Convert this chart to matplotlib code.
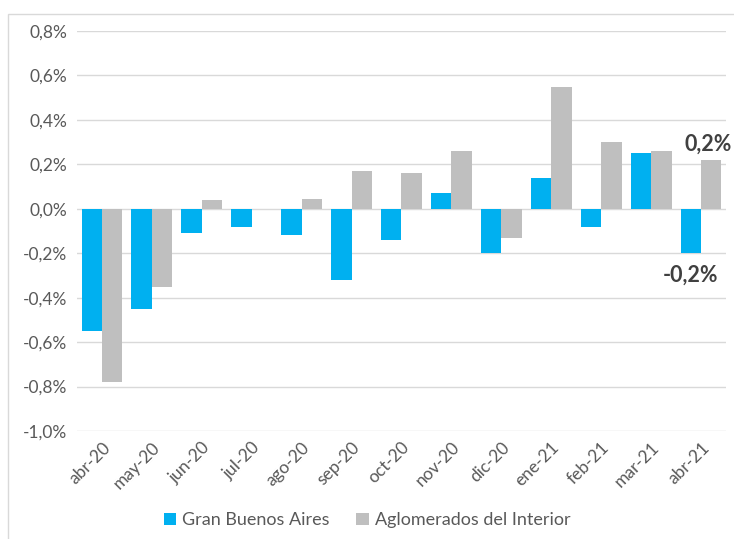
import matplotlib.pyplot as plt
import numpy as np
from matplotlib.patches import Rectangle

BLUE = "#00B0F0"
GRAY = "#BFBFBF"
TEXT_COLOR = "#595959"

months = ["abr-20", "may-20", "jun-20", "jul-20", "ago-20", "sep-20", "oct-20",
          "nov-20", "dic-20", "ene-21", "feb-21", "mar-21", "abr-21"]
gba = [-0.55, -0.45, -0.11, -0.08, -0.12, -0.32, -0.14, 0.07, -0.20, 0.14, -0.08, 0.25, -0.20]
interior = [-0.78, -0.35, 0.04, -0.003, 0.045, 0.17, 0.16, 0.26, -0.13, 0.55, 0.30, 0.26, 0.22]
yticks = [-1.0, -0.8, -0.6, -0.4, -0.2, 0.0, 0.2, 0.4, 0.6, 0.8]

plt.rcParams["font.family"] = ["Lato", "DejaVu Sans"]

fig = plt.figure(figsize=(7.34, 5.39), dpi=100)
ax = fig.add_axes([0.105, 0.2004, 0.884, 0.742])

# Outer chart border.
fig.patches.append(Rectangle((8 / 734, -0.01), 1.0, 1 - 14 / 539 + 0.01, transform=fig.transFigure,
                             fill=False, edgecolor="#D9D9D9", linewidth=1.0))

x = np.arange(len(months))
w = 0.41
ax.bar(x - w / 2, gba, width=w, color=BLUE, label="Gran Buenos Aires", zorder=3)
ax.bar(x + w / 2, interior, width=w, color=GRAY, label="Aglomerados del Interior", zorder=3)

# Grid and axes.
ax.set_ylim(-1.0, 0.8)
ax.set_xlim(-0.5, len(months) - 0.5)
ax.set_yticks(yticks)
ax.set_yticklabels([f"{v:.1f}%".replace(".", ",") for v in yticks], fontsize=12.5, color=TEXT_COLOR)
ax.yaxis.grid(True, color="#D9D9D9", linewidth=1.0, zorder=0)
ax.set_xticks(x)
ax.set_xticklabels(months, rotation=45, ha="right", rotation_mode="anchor", fontsize=12.5, color=TEXT_COLOR)
ax.tick_params(length=0, pad=7)
ax.tick_params(axis="x", pad=6)
for s in ax.spines.values():
    s.set_visible(False)

# Annotations for the last month.
ax.text(12.15, 0.245, "0,2%", ha="center", va="bottom", fontsize=15.5, fontweight="bold", color="#404040")
ax.text(12.35, -0.25, "-0,2%", ha="right", va="top", fontsize=15.5, fontweight="bold", color="#404040")

fig.legend(loc="lower center", ncol=2, bbox_to_anchor=(0.5, -0.01), frameon=False,
           fontsize=13, labelcolor=TEXT_COLOR, handlelength=0.7, handleheight=0.7,
           handletextpad=0.3, columnspacing=1.5)

fig.savefig("out.png", dpi=100)
